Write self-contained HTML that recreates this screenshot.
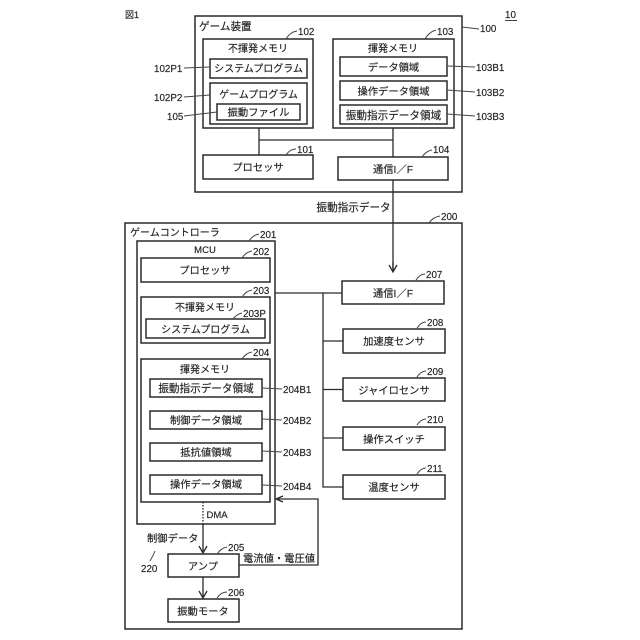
<!DOCTYPE html>
<html><head><meta charset="utf-8"><style>
html,body{margin:0;padding:0;background:#fff}
svg{display:block}
text{font-family:"Liberation Sans","Noto Sans CJK JP",sans-serif;font-size:10.3px;fill:#222;stroke:#222;stroke-width:.15}
.c{text-anchor:middle}
rect{fill:none;stroke:#2a2a2a;stroke-width:1.5}
path,line{fill:none;stroke:#2a2a2a;stroke-width:1.3}
.l{stroke:#444;stroke-width:1}
text.n{font-size:9.8px}
text.s{font-size:10px}
text.w{font-size:10.6px}
</style></head><body>
<svg width="640" height="640" viewBox="0 0 640 640" xmlns="http://www.w3.org/2000/svg">
<text x="125" y="18" style="font-size:9px">図1</text>
<text x="505" y="18" class="n">10</text><line class="l" x1="505" y1="20.5" x2="517" y2="20.5"/>

<!-- Game device -->
<rect x="195" y="16" width="267" height="176"/>
<text class="w" x="199" y="30">ゲーム装置</text>
<rect x="203" y="39" width="110" height="89"/>
<text class="c s" x="258" y="52">不揮発メモリ</text>
<rect x="210" y="59" width="97" height="19"/>
<text class="c s" x="258.500" y="72">システムプログラム</text>
<rect x="210" y="83" width="97" height="41"/>
<text class="c s" x="258.500" y="98">ゲームプログラム</text>
<rect x="217" y="104" width="83" height="16"/>
<text class="c" x="258.500" y="116">振動ファイル</text>
<rect x="333" y="39" width="121" height="89"/>
<text class="c s" x="393" y="52">揮発メモリ</text>
<rect x="340" y="57" width="107" height="19"/>
<text class="c" x="393.500" y="71">データ領域</text>
<rect x="340" y="81" width="107" height="19"/>
<text class="c" x="393.500" y="95">操作データ領域</text>
<rect x="340" y="105" width="107" height="19"/>
<text class="c w" x="393.500" y="119">振動指示データ領域</text>
<rect x="203" y="155" width="110" height="24"/>
<text class="c" x="258" y="171">プロセッサ</text>
<rect x="338" y="157" width="110" height="23"/>
<text class="c" x="393" y="173">通信I／F</text>
<path d="M259 128V155M259 140H393M393 128V157M393 180V270"/>
<path d="M389 265L393 272L397 265M393 262V272"/>
<text class="w" x="316.500" y="211">振動指示データ</text>

<text class="n" x="298" y="35">102</text><path class="l" d="M286 39Q290 32 297 31"/>
<text class="n" x="437" y="35">103</text><path class="l" d="M425 39Q429 32 436 30"/>
<text class="n" x="297" y="153">101</text><path class="l" d="M286 155Q290 149 296 149"/>
<text class="n" x="433" y="153">104</text><path class="l" d="M422 157Q426 151 432 150"/>
<text class="n" x="480" y="32">100</text><path class="l" d="M462 27L479 29"/>
<text class="n" x="154" y="72">102P1</text><line class="l" x1="184" y1="68" x2="210" y2="67"/>
<text class="n" x="154" y="101">102P2</text><line class="l" x1="184" y1="97" x2="210" y2="95"/>
<text class="n" x="167" y="120">105</text><line class="l" x1="184" y1="116" x2="217" y2="112"/>
<text class="n" x="476" y="71">103B1</text><line class="l" x1="447" y1="66" x2="475" y2="67"/>
<text class="n" x="476" y="96">103B2</text><line class="l" x1="447" y1="90" x2="475" y2="92"/>
<text class="n" x="476" y="120">103B3</text><line class="l" x1="447" y1="114" x2="475" y2="116"/>
<text class="n" x="441" y="220">200</text><path class="l" d="M429 223Q433 217 440 216"/>

<!-- Controller -->
<rect x="125" y="223" width="337" height="406"/>
<text class="s" x="130" y="236">ゲームコントローラ</text>
<rect x="137" y="241" width="138" height="283"/>
<text class="c" x="205" y="253" style="font-size:9.5px">MCU</text>
<rect x="141" y="258" width="129" height="24"/>
<text class="c" x="205" y="274">プロセッサ</text>
<rect x="141" y="297" width="129" height="46"/>
<text class="c s" x="205" y="311">不揮発メモリ</text>
<rect x="146" y="319" width="119" height="19"/>
<text class="c s" x="205.500" y="333">システムプログラム</text>
<rect x="141" y="359" width="129" height="143"/>
<text class="c s" x="205" y="373">揮発メモリ</text>
<rect x="150" y="379" width="112" height="18"/>
<text class="c w" x="206" y="392">振動指示データ領域</text>
<rect x="150" y="411" width="112" height="18"/>
<text class="c" x="206" y="424">制御データ領域</text>
<rect x="150" y="443" width="112" height="18"/>
<text class="c" x="206" y="456">抵抗値領域</text>
<rect x="150" y="475" width="112" height="19"/>
<text class="c" x="206" y="488">操作データ領域</text>

<rect x="342" y="281" width="102" height="23"/>
<text class="c" x="393" y="297">通信I／F</text>
<rect x="343" y="329" width="102" height="24"/>
<text class="c" x="394" y="345">加速度センサ</text>
<rect x="343" y="378" width="102" height="23"/>
<text class="c" x="394" y="394">ジャイロセンサ</text>
<rect x="343" y="427" width="102" height="23"/>
<text class="c" x="394" y="443">操作スイッチ</text>
<rect x="343" y="475" width="102" height="24"/>
<text class="c" x="394" y="491">温度センサ</text>
<path d="M275 293H342M323 293V487H343M323 341H343M323 389.500H343M323 438H343"/>

<rect x="168" y="554" width="71" height="23"/>
<text class="c" x="203" y="570">アンプ</text>
<rect x="168" y="599" width="71" height="23"/>
<text class="c" x="203" y="615">振動モータ</text>
<line x1="203" y1="502" x2="203" y2="524" stroke-dasharray="1.500 1.500"/>
<path d="M203 524V553M199 546L203 553L207 546M203 577V598M199 591L203 598L207 591"/>
<path d="M239 565H318V499H277M283 496L276 499L283 502"/>
<text x="206.500" y="518" style="font-size:9.5px">DMA</text>
<text x="147" y="542">制御データ</text>
<text class="n" x="141" y="572">220</text><path class="l" d="M155 551Q153 556 150 561"/>
<text x="243" y="562">電流値・電圧値</text>

<text class="n" x="260" y="238">201</text><path class="l" d="M249 241Q253 235 259 234"/>
<text class="n" x="253" y="255">202</text><path class="l" d="M242 258Q246 252 252 251"/>
<text class="n" x="253" y="294">203</text><path class="l" d="M242 297Q246 291 252 290"/>
<text class="n" x="243" y="317">203P</text><path class="l" d="M233 319Q237 314 242 313"/>
<text class="n" x="253" y="356">204</text><path class="l" d="M242 359Q246 353 252 352"/>
<text class="n" x="283" y="393">204B1</text><line class="l" x1="262" y1="388" x2="282" y2="389"/>
<text class="n" x="283" y="424">204B2</text><line class="l" x1="262" y1="419" x2="282" y2="420"/>
<text class="n" x="283" y="456">204B3</text><line class="l" x1="262" y1="451" x2="282" y2="452"/>
<text class="n" x="283" y="490">204B4</text><line class="l" x1="262" y1="485" x2="282" y2="486"/>
<text class="n" x="426" y="278">207</text><path class="l" d="M416 280Q420 274 425 274"/>
<text class="n" x="427" y="326">208</text><path class="l" d="M417 328Q421 322 426 322"/>
<text class="n" x="427" y="375">209</text><path class="l" d="M417 377Q421 371 426 371"/>
<text class="n" x="427" y="423">210</text><path class="l" d="M417 425Q421 419 426 419"/>
<text class="n" x="427" y="472">211</text><path class="l" d="M417 474Q421 468 426 468"/>
<text class="n" x="228" y="551">205</text><path class="l" d="M217 554Q221 548 227 547"/>
<text class="n" x="228" y="596">206</text><path class="l" d="M217 598Q221 592 227 592"/>
</svg>
</body></html>
